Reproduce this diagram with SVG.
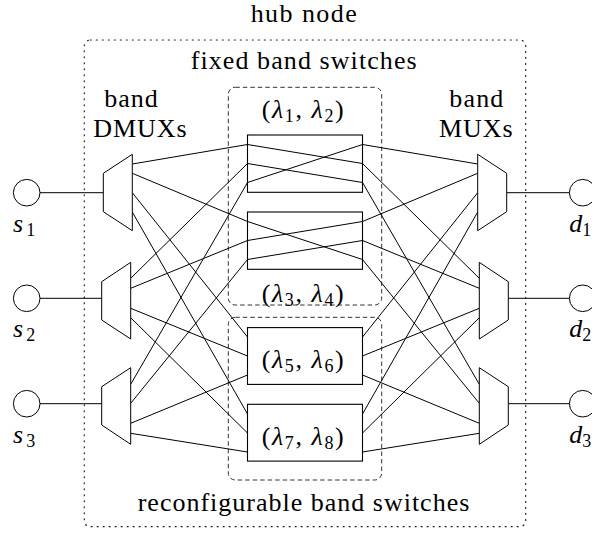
<svg xmlns="http://www.w3.org/2000/svg" width="592" height="534" viewBox="0 0 592 534">
<style>
text{font-family:'Liberation Serif',serif;font-size:26px;fill:#000}
.it{font-style:italic}
.sub{font-size:18px}
.shape{fill:#fff;stroke:#000;stroke-width:1.1}
.trap{fill:#fff;stroke:#000;stroke-width:1}
.conn line{stroke:#000;stroke-width:1}
.dotted{fill:none;stroke:#222;stroke-width:1.2;stroke-dasharray:1 5;stroke-linecap:round}
.dashed{fill:none;stroke:#333;stroke-width:1;stroke-dasharray:4.5 3}
</style>
<rect width="592" height="534" fill="#fff"/>

<g id="hub">
<rect class="dotted" x="84.3" y="40" width="441.4" height="486.7" rx="6"/>
<text x="250.7" y="21.5" textLength="106" lengthAdjust="spacing">hub node</text>
</g>

<g id="fixed-group">
<rect class="dashed" x="228.3" y="87.3" width="153.4" height="217.7" rx="7"/>
<text x="190.7" y="69" textLength="226" lengthAdjust="spacing">fixed band switches</text>
</g>
<g id="reconf-group">
<rect class="dashed" x="228.3" y="317.3" width="153.4" height="162.7" rx="7"/>
<text x="137.7" y="510.7" textLength="331.6" lengthAdjust="spacing">reconfigurable band switches</text>
</g>

<g id="dmux-label">
<text x="104.3" y="106.7" textLength="53.4" lengthAdjust="spacing">band</text>
<text x="93.3" y="136.7" textLength="93.3" lengthAdjust="spacing">DMUXs</text>
</g>
<g id="mux-label">
<text x="449.3" y="106.7" textLength="54" lengthAdjust="spacing">band</text>
<text x="439" y="136.7" textLength="73.7" lengthAdjust="spacing">MUXs</text>
</g>

<g class="conn" id="connectors">
<line x1="40" y1="192.7" x2="103.3" y2="192.7"/>
<line x1="40" y1="298.3" x2="101.7" y2="298.3"/>
<line x1="40" y1="403.7" x2="101.7" y2="403.7"/>
<line x1="506.7" y1="192.7" x2="569.3" y2="192.7"/>
<line x1="508.3" y1="298.3" x2="569.3" y2="298.3"/>
<line x1="508.3" y1="403.7" x2="569.3" y2="403.7"/>

<line x1="132.3" y1="164" x2="247.5" y2="144.5"/>
<line x1="132.3" y1="173.3" x2="247.5" y2="221.5"/>
<line x1="132.3" y1="192.7" x2="247.5" y2="337"/>
<line x1="132.3" y1="212" x2="247.5" y2="414"/>
<line x1="130.7" y1="278.3" x2="247.5" y2="163.5"/>
<line x1="130.7" y1="288.3" x2="247.5" y2="240.5"/>
<line x1="130.7" y1="308.3" x2="247.5" y2="356"/>
<line x1="130.7" y1="317.7" x2="247.5" y2="433"/>
<line x1="130.7" y1="384.3" x2="247.5" y2="182.5"/>
<line x1="130.7" y1="403.3" x2="247.5" y2="259.5"/>
<line x1="130.7" y1="423.3" x2="247.5" y2="375"/>
<line x1="130.7" y1="433.3" x2="247.5" y2="452"/>

<line x1="362.5" y1="144.5" x2="477.7" y2="164"/>
<line x1="362.5" y1="221.5" x2="477.7" y2="173.3"/>
<line x1="362.5" y1="337" x2="477.7" y2="192.7"/>
<line x1="362.5" y1="414" x2="477.7" y2="212"/>
<line x1="362.5" y1="163.5" x2="479.3" y2="278.3"/>
<line x1="362.5" y1="240.5" x2="479.3" y2="288.3"/>
<line x1="362.5" y1="356" x2="479.3" y2="308.3"/>
<line x1="362.5" y1="433" x2="479.3" y2="317.7"/>
<line x1="362.5" y1="182.5" x2="479.3" y2="384.3"/>
<line x1="362.5" y1="259.5" x2="479.3" y2="403.3"/>
<line x1="362.5" y1="375" x2="479.3" y2="423.3"/>
<line x1="362.5" y1="452" x2="479.3" y2="433.3"/>
</g>

<g id="sw1">
<rect class="shape" x="247.5" y="135" width="115" height="57.3"/>
<g class="conn">
<line x1="247.5" y1="144.5" x2="362.5" y2="163.5"/>
<line x1="247.5" y1="163.5" x2="362.5" y2="182.5"/>
<line x1="247.5" y1="182.5" x2="362.5" y2="144.5"/>
</g>
<text x="261.7" y="118.3" textLength="82" lengthAdjust="spacing">(<tspan class="it">λ</tspan><tspan class="sub" dy="4">1</tspan><tspan dy="-4">, </tspan><tspan class="it">λ</tspan><tspan class="sub" dy="4">2</tspan><tspan dy="-4">)</tspan></text>
</g>

<g id="sw2">
<rect class="shape" x="247.5" y="212" width="115" height="57.3"/>
<g class="conn">
<line x1="247.5" y1="221.5" x2="362.5" y2="259.5"/>
<line x1="247.5" y1="240.5" x2="362.5" y2="221.5"/>
<line x1="247.5" y1="259.5" x2="362.5" y2="240.5"/>
</g>
<text x="261.7" y="302.2" textLength="82" lengthAdjust="spacing">(<tspan class="it">λ</tspan><tspan class="sub" dy="4">3</tspan><tspan dy="-4">, </tspan><tspan class="it">λ</tspan><tspan class="sub" dy="4">4</tspan><tspan dy="-4">)</tspan></text>
</g>

<g id="sw3">
<rect class="shape" x="247.5" y="327.6" width="115" height="56.8"/>
<text x="261.7" y="368.3" textLength="82" lengthAdjust="spacing">(<tspan class="it">λ</tspan><tspan class="sub" dy="4">5</tspan><tspan dy="-4">, </tspan><tspan class="it">λ</tspan><tspan class="sub" dy="4">6</tspan><tspan dy="-4">)</tspan></text>
</g>

<g id="sw4">
<rect class="shape" x="247.5" y="404.3" width="115" height="56.8"/>
<text x="261.7" y="445" textLength="82" lengthAdjust="spacing">(<tspan class="it">λ</tspan><tspan class="sub" dy="4">7</tspan><tspan dy="-4">, </tspan><tspan class="it">λ</tspan><tspan class="sub" dy="4">8</tspan><tspan dy="-4">)</tspan></text>
</g>

<g id="dmux1"><polygon class="trap" points="103.3,173.3 132.3,154.3 132.3,230.7 103.3,211.7"/></g>
<g id="dmux2"><polygon class="trap" points="101.7,281.7 130.7,262.3 130.7,339 101.7,320"/></g>
<g id="dmux3"><polygon class="trap" points="101.7,386.7 130.7,367.7 130.7,444.3 101.7,425"/></g>
<g id="mux1"><polygon class="trap" points="477.7,154.3 506.7,173.3 506.7,211.7 477.7,230.7"/></g>
<g id="mux2"><polygon class="trap" points="479.3,262.3 508.3,281.7 508.3,320 479.3,339"/></g>
<g id="mux3"><polygon class="trap" points="479.3,367.7 508.3,386.7 508.3,425 479.3,444.3"/></g>

<g id="s1"><circle class="trap" cx="26.7" cy="192.7" r="13.3"/><text x="13" y="231.7"><tspan class="it">s</tspan><tspan class="sub" dx="3" dy="4">1</tspan></text></g>
<g id="s2"><circle class="trap" cx="26.7" cy="298.3" r="13.3"/><text x="13" y="337.3"><tspan class="it">s</tspan><tspan class="sub" dx="3" dy="4">2</tspan></text></g>
<g id="s3"><circle class="trap" cx="26.7" cy="403.7" r="13.3"/><text x="13" y="442.7"><tspan class="it">s</tspan><tspan class="sub" dx="3" dy="4">3</tspan></text></g>
<g id="d1"><circle class="trap" cx="582.7" cy="192.7" r="13.3"/><text x="569.3" y="231.7"><tspan class="it">d</tspan><tspan class="sub" dy="4">1</tspan></text></g>
<g id="d2"><circle class="trap" cx="582.7" cy="298.3" r="13.3"/><text x="569.3" y="337.3"><tspan class="it">d</tspan><tspan class="sub" dy="4">2</tspan></text></g>
<g id="d3"><circle class="trap" cx="582.7" cy="403.7" r="13.3"/><text x="569.3" y="442.7"><tspan class="it">d</tspan><tspan class="sub" dy="4">3</tspan></text></g>
</svg>
